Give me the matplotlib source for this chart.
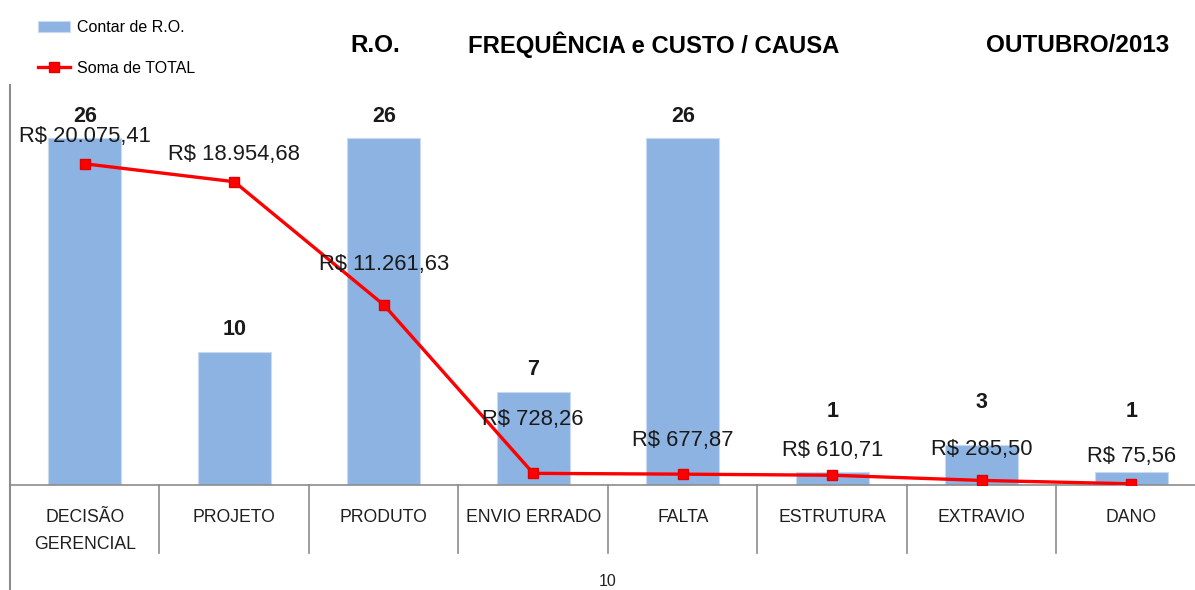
import matplotlib
matplotlib.use("Agg")
import matplotlib.pyplot as plt
import matplotlib.transforms as mtransforms
from matplotlib.lines import Line2D
import numpy as np

categories = ["DECISÃO\nGERENCIAL", "PROJETO", "PRODUTO", "ENVIO ERRADO",
              "FALTA", "ESTRUTURA", "EXTRAVIO", "DANO"]
contagem = [26, 10, 26, 7, 26, 1, 3, 1]
total = [20075.41, 18954.68, 11261.63, 728.26, 677.87, 610.71, 285.50, 75.56]
total_labels = ["R$ 20.075,41", "R$ 18.954,68", "R$ 11.261,63", "R$ 728,26",
                "R$ 677,87", "R$ 610,71", "R$ 285,50", "R$ 75,56"]
title_parts = ["R.O.", "FREQUÊNCIA e CUSTO / CAUSA", "OUTUBRO/2013"]
stray_label = "10"

# label offsets in pixels (layout)
bar_label_off = [22, 22, 22, 22, 22, 60, 43, 60]
line_label_off = [27, 27, 40, 54, 34, 25, 31, 27]

W, H = 1195, 590
plt.rcParams['font.family'] = ['Liberation Sans', 'DejaVu Sans']
fig = plt.figure(figsize=(W / 100, H / 100), dpi=100)
fig.patch.set_facecolor('white')

left_px, base_px, top_px = 10, 485, 85
cat_w = 149.5
ax = fig.add_axes([left_px / W, (H - base_px) / H, 8 * cat_w / W, (base_px - top_px) / H])
ax2 = ax.twinx()

x = np.arange(len(categories))
bar_color = '#8DB3E2'
grid_col = '#8C8C8C'
bars = ax.bar(x, contagem, width=0.49, color=bar_color, edgecolor='#C9DAF0', linewidth=0.8, zorder=2)
ax.set_xlim(-0.5, len(categories) - 0.5)
ax.set_ylim(0, 30)
ax2.set_ylim(0, 25000)

line, = ax2.plot(x, total, color='#FF0000', lw=2.4, marker='s', markersize=6.5,
                 markeredgecolor='#E00000', zorder=5)

for a in (ax, ax2):
    for s in a.spines.values():
        s.set_visible(False)
    a.set_xticks([])
    a.set_yticks([])
ax.patch.set_alpha(0)

ax.axhline(0, color=grid_col, lw=1.2, zorder=3, clip_on=False)

# separators below axis
trans = mtransforms.blended_transform_factory(ax.transData, ax.transAxes)
sep_bottom = -(553 - base_px) / (base_px - top_px)
for xs in np.arange(-0.5, len(categories), 1.0)[1:]:
    ax.plot([xs, xs], [0, sep_bottom], transform=trans, color=grid_col, lw=1.2, clip_on=False)

# left border across whole height
fig.add_artist(Line2D([left_px / W, left_px / W], [0, 1 - top_px / H], color=grid_col, lw=1.5))

# category labels
for i, c in enumerate(categories):
    ax.text(i, -(509 - base_px) / (base_px - top_px), c, transform=trans, ha='center', va='top',
            fontsize=12.7, color='#1F1F1F', linespacing=1.75)

# bar labels
for i, v in enumerate(contagem):
    ax.annotate(str(v), (i, v), xytext=(0, bar_label_off[i]), textcoords='offset pixels',
                ha='center', va='center', fontsize=15.5, fontweight='bold', color='#1A1A1A', zorder=6)

# line labels
for i, v in enumerate(total):
    ax2.annotate(total_labels[i], (i, v), xytext=(0, line_label_off[i]), textcoords='offset pixels',
                 ha='center', va='center', fontsize=15.8, color='#1A1A1A', zorder=6)

# title
ty = 1 - 45 / H
fig.text(375 / W, ty, title_parts[0], ha='center', va='center', fontsize=17.5, fontweight='bold')
fig.text(654 / W, ty, title_parts[1], ha='center', va='center', fontsize=17.2, fontweight='bold')
fig.text(1078 / W, ty, title_parts[2], ha='center', va='center', fontsize=17.5, fontweight='bold')

# stray label
fig.text(608 / W, 1 - 582 / H, stray_label, ha='center', va='center', fontsize=11.5, color='#1F1F1F')

# legend
fig.legend([bars, line], ["Contar de R.O.", "Soma de TOTAL"], loc='upper left',
           bbox_to_anchor=(38 / W, 1 - 20 / H), frameon=False, fontsize=11.5,
           handlelength=2.0, handletextpad=0.45, labelspacing=1.6, borderpad=0, borderaxespad=0)

fig.savefig('out.png', dpi=100, facecolor='white')
